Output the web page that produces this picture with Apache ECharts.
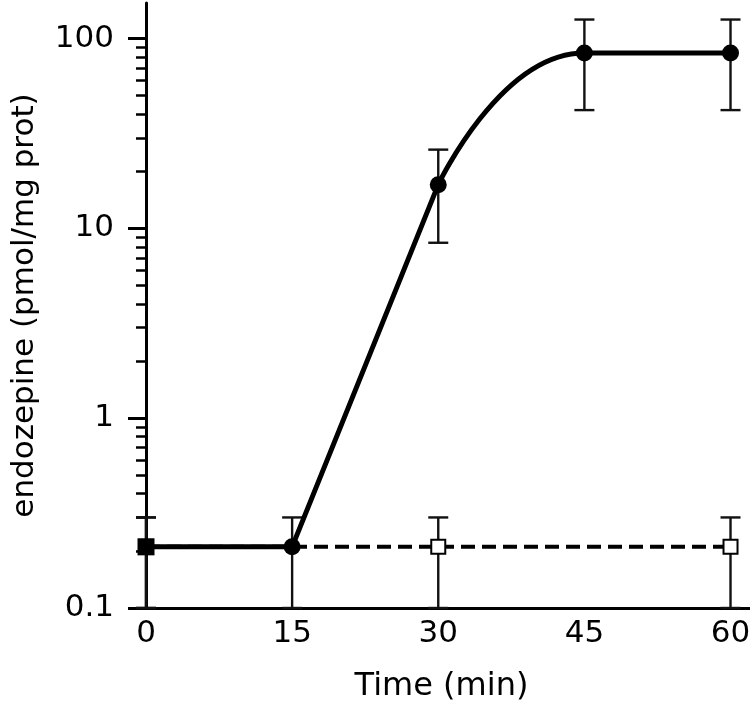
<!DOCTYPE html>
<html>
<head>
<meta charset="utf-8">
<script src="https://cdn.jsdelivr.net/npm/echarts@6/dist/echarts.min.js"></script>
<style>
html,body{margin:0;padding:0;background:#fff;}
#chart{width:750px;height:703px;}
</style>
</head>
<body>
<div id="chart"></div>
<script>
// ---- data ----
var timeLabels = [0, 15, 30, 45, 60];
var yMajorTicks = [0.1, 1, 10, 100];
var yMinorTicks = [0.2,0.3,0.4,0.5,0.6,0.7,0.8,0.9,2,3,4,5,6,7,8,9,20,30,40,50,60,70,80,90];

var treatedTime = [0, 15, 30, 45, 60];
var treatedMean = [0.21, 0.21, 17, 84, 84];
var treatedLow  = [0.1, 0.1, 8.4, 42, 42];
var treatedHigh = [0.3, 0.3, 26, 126, 126];

var controlTime = [0, 30, 60];
var controlMean = [0.21, 0.21, 0.21];
var controlLow  = [0.1, 0.1, 0.1];
var controlHigh = [0.3, 0.3, 0.3];

var FONT = 'DejaVu Sans';
var FS = 31;

function pairs(xs, ys, from, to) {
  var out = [];
  for (var i = from; i <= to; i++) out.push([xs[i], ys[i]]);
  return out;
}
function errData(xs, lo, hi) {
  return xs.map(function (x, i) { return [x, lo[i], hi[i]]; });
}
function errRender(params, api) {
  var x = api.value(0);
  var top = api.coord([x, api.value(2)]);
  var bot = api.coord([x, api.value(1)]);
  var hw = 10;
  var st = { stroke: '#111', lineWidth: 2.4 };
  return {
    type: 'group',
    children: [
      { type: 'line', shape: { x1: top[0], y1: top[1], x2: bot[0], y2: bot[1] }, style: st },
      { type: 'line', shape: { x1: top[0] - hw, y1: top[1], x2: top[0] + hw, y2: top[1] }, style: st },
      { type: 'line', shape: { x1: bot[0] - hw, y1: bot[1], x2: bot[0] + hw, y2: bot[1] }, style: st }
    ]
  };
}

var treatedMarkers = treatedTime.map(function (t, i) {
  var item = { value: [t, treatedMean[i]] };
  if (i === 0) { item.symbol = 'rect'; item.symbolSize = 17; }
  return item;
});

var chart = echarts.init(document.getElementById('chart'), null, { renderer: 'canvas' });
chart.setOption({
  animation: false,
  backgroundColor: '#fff',
  grid: { left: 146, right: 0, top: 3, bottom: 95, containLabel: false, outerBoundsMode: 'none' },
  xAxis: {
    type: 'value', min: 0, max: 62,
    name: 'Time (min)', nameLocation: 'middle', nameGap: 63,
    nameTextStyle: { fontFamily: FONT, fontSize: 32, color: '#000', padding: [0, 13, 0, 0] },
    axisLine: { lineStyle: { color: '#000', width: 3 } },
    axisTick: { show: false },
    splitLine: { show: false },
    axisLabel: { customValues: timeLabels, fontFamily: FONT, fontSize: FS, color: '#000', margin: 10 }
  },
  yAxis: [{
    type: 'log', logBase: 10, min: 0.1, max: 154,
    name: 'endozepine (pmol/mg prot)', nameLocation: 'middle', nameGap: 106,
    nameTextStyle: { fontFamily: FONT, fontSize: FS, color: '#000' },
    axisLine: { show: true, lineStyle: { color: '#000', width: 3 } },
    axisTick: { show: true, customValues: yMajorTicks, length: 18, lineStyle: { color: '#000', width: 3 } },
    minorTick: { show: false },
    splitLine: { show: false },
    axisLabel: { customValues: yMajorTicks, fontFamily: FONT, fontSize: FS, color: '#000', margin: 32,
      formatter: function (v) { return String(v); } }
  }, {
    type: 'log', logBase: 10, min: 0.1, max: 154, position: 'left',
    axisLine: { show: false },
    axisTick: { show: true, customValues: yMinorTicks, length: 10, lineStyle: { color: '#000', width: 2.5 } },
    axisLabel: { show: false },
    splitLine: { show: false }
  }],
  series: [
    { type: 'custom', name: 'treated err', renderItem: errRender, encode: { x: 0, y: [1, 2] },
      data: errData(treatedTime, treatedLow, treatedHigh), z: 1, clip: false },
    { type: 'custom', name: 'control err', renderItem: errRender, encode: { x: 0, y: [1, 2] },
      data: errData(controlTime, controlLow, controlHigh), z: 1, clip: false },
    { type: 'line', name: 'control', data: pairs(controlTime, controlMean, 0, controlTime.length - 1),
      lineStyle: { color: '#000', width: 4, type: [14, 7] },
      symbol: 'rect', symbolSize: 14, showSymbol: true,
      itemStyle: { color: '#fff', borderColor: '#000', borderWidth: 2 }, z: 2 },
    { type: 'line', name: 'treated a', data: pairs(treatedTime, treatedMean, 0, 2),
      lineStyle: { color: '#000', width: 5 }, showSymbol: false, symbol: 'none', z: 3 },
    { type: 'line', name: 'treated b', data: pairs(treatedTime, treatedMean, 2, 4),
      smooth: 0.5, lineStyle: { color: '#000', width: 5 }, showSymbol: false, symbol: 'none', z: 3 },
    { type: 'scatter', name: 'treated', data: treatedMarkers, symbol: 'circle', symbolSize: 17,
      itemStyle: { color: '#000', opacity: 1 }, z: 4 }
  ]
});
</script>
</body>
</html>
